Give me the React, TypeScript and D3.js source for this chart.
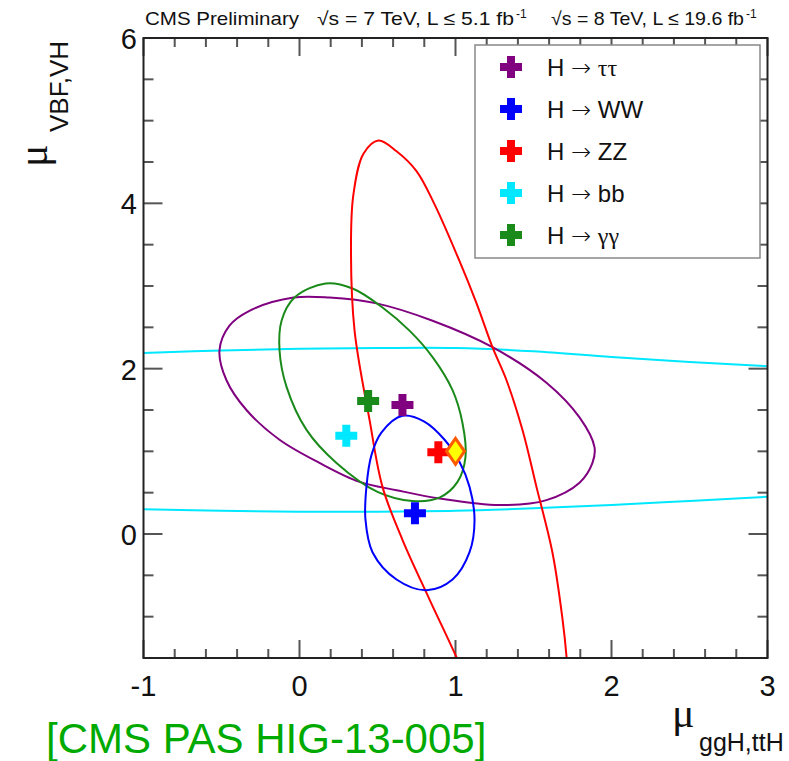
import React from 'react';
import * as d3 from 'd3';

const width = 789;
const height = 761;
const frame = { left: 143.5, right: 767.5, top: 38, bottom: 658 };

// tick labels
const xTickLabels = [-1, 0, 1, 2, 3];
const yTickLabels = [0, 2, 4, 6];

// 68% CL contours, [mu_ggH, mu_VBF]
const tautauContour: [number, number][] = [
  [-0.513, 2.22], [-0.449, 2.52], [-0.321, 2.70], [-0.038, 2.86], [0.192, 2.86],
  [0.494, 2.79], [0.853, 2.58], [1.237, 2.26], [1.583, 1.83], [1.795, 1.41],
  [1.891, 1.05], [1.878, 0.86], [1.795, 0.62], [1.583, 0.41], [1.282, 0.35],
  [0.897, 0.43], [0.622, 0.53], [0.385, 0.63], [0.128, 0.86], [-0.128, 1.14],
  [-0.34, 1.50], [-0.468, 1.86]
];
const wwContour: [number, number][] = [
  [0.66, 1.43], [0.80, 1.36], [0.93, 1.14], [1.026, 0.87], [1.09, 0.57],
  [1.122, 0.17], [1.09, -0.22], [0.981, -0.55], [0.814, -0.68], [0.622, -0.55],
  [0.468, -0.22], [0.423, 0.17], [0.429, 0.57], [0.462, 0.96], [0.526, 1.23]
];
const zzContour: [number, number][] = [
  [0.506, 4.76], [0.622, 4.63], [0.75, 4.39], [0.865, 3.99], [1.026, 3.30],
  [1.135, 2.79], [1.237, 2.26], [1.327, 1.86], [1.429, 1.26], [1.519, 0.57],
  [1.622, -0.23], [1.686, -1.03], [1.712, -1.49], [1.73, -2.0], [1.44, -2.54],
  [1.12, -2.0], [1.006, -1.49], [0.833, -0.79], [0.66, -0.07], [0.532, 0.57],
  [0.449, 1.38], [0.353, 2.46], [0.33, 3.43], [0.345, 4.1], [0.41, 4.6]
];
const ggContour: [number, number][] = [
  [0.167, 3.03], [0.34, 2.97], [0.532, 2.74], [0.705, 2.46], [0.853, 2.14],
  [0.981, 1.74], [1.045, 1.34], [1.064, 0.93], [1.013, 0.63], [0.897, 0.44],
  [0.724, 0.40], [0.50, 0.51], [0.237, 0.86], [0.045, 1.26], [-0.083, 1.78],
  [-0.128, 2.22], [-0.115, 2.58], [-0.032, 2.86]
];
// bb contour is wider than the plot, only the two bands are visible
const bbUpper: [number, number][] = [
  [-1.1, 2.18], [-1, 2.19], [-0.5, 2.22], [0, 2.24], [0.5, 2.25], [1.0, 2.25],
  [1.5, 2.21], [2.0, 2.14], [2.5, 2.08], [3.0, 2.03], [3.1, 2.02]
];
const bbLower: [number, number][] = [
  [-1.1, 0.30], [-1, 0.30], [-0.5, 0.28], [0, 0.27], [0.5, 0.27], [1.0, 0.28],
  [1.5, 0.31], [2.0, 0.35], [2.5, 0.40], [3.0, 0.45], [3.1, 0.46]
];

const channels = [
  { key: 'tautau', label: 'ττ', greek: true, color: '#800080', best: [0.66, 1.56] },
  { key: 'ww', label: 'WW', greek: false, color: '#0000ff', best: [0.74, 0.25] },
  { key: 'zz', label: 'ZZ', greek: false, color: '#ff0000', best: [0.89, 0.99] },
  { key: 'bb', label: 'bb', greek: false, color: '#00e8ff', best: [0.30, 1.19] },
  { key: 'gg', label: 'γγ', greek: true, color: '#1a8a1a', best: [0.44, 1.61] }
];
const smPoint = [1, 1];

const x = d3.scaleLinear().domain([-1, 3]).range([frame.left, frame.right]);
const y = d3.scaleLinear().domain([-1.5, 6]).range([frame.bottom, frame.top]);

const closed = d3.line<[number, number]>()
  .x(d => x(d[0])).y(d => y(d[1]))
  .curve(d3.curveCatmullRomClosed.alpha(0.5));
const open = d3.line<[number, number]>()
  .x(d => x(d[0])).y(d => y(d[1]))
  .curve(d3.curveCatmullRom.alpha(0.5));

const crossPath = (cx: number, cy: number, s = 11, t = 4) =>
  `M${cx - t},${cy - s}H${cx + t}V${cy - t}H${cx + s}V${cy + t}H${cx + t}V${cy + s}` +
  `H${cx - t}V${cy + t}H${cx - s}V${cy - t}H${cx - t}Z`;

const sans = 'Liberation Sans, Arial, Helvetica, sans-serif';
const serif = 'Liberation Serif, Times New Roman, serif';

const App = () => {
  const xMinor = d3.range(-1, 3.001, 0.2);
  const yMinor = d3.range(-1.5, 6.001, 0.5);
  const tickColor = '#555';

  return (
    <svg width={width} height={height} style={{ position: 'absolute', left: 0, top: 0 }} fontFamily={sans}>
      <rect width={width} height={height} fill="#fff" />
      <defs>
        <clipPath id="plotArea">
          <rect x={frame.left} y={frame.top} width={frame.right - frame.left} height={frame.bottom - frame.top} />
        </clipPath>
      </defs>

      {/* header */}
      <g fontSize={19} fill="#111">
        <text x={145} y={25} textLength={154} lengthAdjust="spacingAndGlyphs">CMS Preliminary</text>
        <text x={317} y={25} textLength={197} lengthAdjust="spacingAndGlyphs">√s = 7 TeV, L ≤ 5.1 fb</text>
        <text x={516} y={18} fontSize={12}>-1</text>
        <text x={551} y={25} textLength={193} lengthAdjust="spacingAndGlyphs">√s = 8 TeV, L ≤ 19.6 fb</text>
        <text x={746} y={18} fontSize={12}>-1</text>
      </g>

      {/* ticks, all four sides */}
      <g stroke={tickColor} strokeWidth={2}>
        {xMinor.map((v, i) => {
          const major = Math.abs(v - Math.round(v)) < 1e-6;
          const len = major ? 18 : 9;
          return (
            <g key={'xt' + i}>
              <line x1={x(v)} x2={x(v)} y1={frame.bottom} y2={frame.bottom - len} />
              <line x1={x(v)} x2={x(v)} y1={frame.top} y2={frame.top + len} />
            </g>
          );
        })}
        {yMinor.map((v, i) => {
          const major = Math.abs(v / 2 - Math.round(v / 2)) < 1e-6;
          const len = major ? 19 : 10;
          return (
            <g key={'yt' + i}>
              <line x1={frame.left} x2={frame.left + len} y1={y(v)} y2={y(v)} />
              <line x1={frame.right} x2={frame.right - len} y1={y(v)} y2={y(v)} />
            </g>
          );
        })}
      </g>

      {/* contours */}
      <g clipPath="url(#plotArea)" fill="none" strokeWidth={2}>
        <path d={open(bbUpper) || ''} stroke={channels[3].color} />
        <path d={open(bbLower) || ''} stroke={channels[3].color} />
        <path d={closed(tautauContour) || ''} stroke={channels[0].color} />
        <path d={closed(ggContour) || ''} stroke={channels[4].color} />
        <path d={closed(zzContour) || ''} stroke={channels[2].color} />
        <path d={closed(wwContour) || ''} stroke={channels[1].color} />
      </g>

      {/* best fit points */}
      {channels.map(c => (
        <path key={c.key} d={crossPath(x(c.best[0]), y(c.best[1]))} fill={c.color} />
      ))}
      <path
        d={`M${x(smPoint[0])},${y(smPoint[1]) - 13}L${x(smPoint[0]) + 9},${y(smPoint[1])}L${x(smPoint[0])},${y(smPoint[1]) + 13}L${x(smPoint[0]) - 9},${y(smPoint[1])}Z`}
        fill="#ffff00" stroke="#ff5a00" strokeWidth={3} strokeLinejoin="miter"
      />

      {/* frame */}
      <rect x={frame.left} y={frame.top} width={frame.right - frame.left} height={frame.bottom - frame.top}
        fill="none" stroke="#222" strokeWidth={2} />

      {/* tick labels */}
      <g fontSize={29} fill="#111">
        {xTickLabels.map(v => (
          <text key={'xl' + v} x={x(v)} y={frame.bottom + 38} textAnchor="middle">{v}</text>
        ))}
        {yTickLabels.map(v => (
          <text key={'yl' + v} x={137} y={y(v) + 11} textAnchor="end">{v}</text>
        ))}
      </g>

      {/* axis titles */}
      <g fill="#111">
        <text x={672} y={727} fontSize={42} fontFamily={serif}>μ</text>
        <text x={699} y={751} fontSize={25}>ggH,ttH</text>
        <text transform="translate(47,167) rotate(-90)" fontSize={42} fontFamily={serif}>μ</text>
        <text transform="translate(68,132) rotate(-90)" fontSize={26}>VBF,VH</text>
      </g>

      {/* legend */}
      <rect x={475} y={45} width={285} height={213} fill="#fff" stroke="#888" strokeWidth={1.5} />
      {channels.map((c, i) => {
        const ly = 67 + i * 42;
        return (
          <g key={'lg' + c.key}>
            <path d={crossPath(511, ly)} fill={c.color} />
            <text x={547} y={ly + 9} fontSize={24} fill="#111">
              H <tspan fontFamily="DejaVu Sans" fontWeight={200}>→</tspan> <tspan fontFamily={c.greek ? serif : sans}>{c.label}</tspan>
            </text>
          </g>
        );
      })}

      {/* reference */}
      <text x={46} y={753} fontSize={42} fill="#00aa00">[CMS PAS HIG-13-005]</text>
    </svg>
  );
};

export default App;
